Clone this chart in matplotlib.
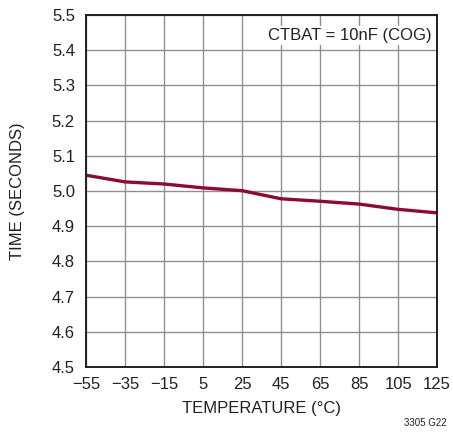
import numpy as np
import matplotlib
matplotlib.use("Agg")
import matplotlib.pyplot as plt

plt.rcParams['font.family'] = ['Liberation Sans', 'DejaVu Sans']

# data
temp = [-55, -35, -15, 5, 25, 45, 65, 85, 105, 125]
time_s = [5.045, 5.026, 5.020, 5.009, 5.001, 4.978, 4.971, 4.963, 4.948, 4.938]
xticks = [-55, -35, -15, 5, 25, 45, 65, 85, 105, 125]
xtick_labels = ['\u221255', '\u221235', '\u221215', '5', '25', '45', '65', '85', '105', '125']
yticks = [4.5, 4.6, 4.7, 4.8, 4.9, 5.0, 5.1, 5.2, 5.3, 5.4, 5.5]

fig = plt.figure(figsize=(4.53, 4.32), dpi=100)
ax = fig.add_axes([0.190, 0.1505, 0.775, 0.8145])

ax.plot(temp, time_s, color='#8c0b30', lw=2.4, solid_capstyle='butt')

ax.set_xlim(-55, 125)
ax.set_ylim(4.5, 5.5)
ax.set_xticks(xticks)
ax.set_xticklabels(xtick_labels)
ax.set_yticks(yticks)
ax.set_yticklabels(['%.1f' % v for v in yticks])
ax.grid(True, color='#8f8f8f', lw=1.0)
ax.set_axisbelow(True)
ax.tick_params(length=0, labelsize=12, colors='#231f20')
ax.tick_params(axis='x', pad=7)
ax.tick_params(axis='y', pad=8)
for s in ax.spines.values():
    s.set_linewidth(1.4)
    s.set_color('#231f20')

ax.set_xlabel('TEMPERATURE (\u00b0C)', fontsize=12, color='#231f20', labelpad=7)
ax.set_ylabel('TIME (SECONDS)', fontsize=12, color='#231f20', labelpad=19)

ax.text(0.985, 0.963, 'CTBAT = 10nF (COG)', transform=ax.transAxes, ha='right', va='top',
        fontsize=12, color='#231f20',
        bbox=dict(facecolor='white', edgecolor='none', pad=1.5))
fig.text(0.985, 0.01, '3305 G22', ha='right', va='bottom', fontsize=7, color='#231f20')

fig.savefig('out.png', dpi=100)
